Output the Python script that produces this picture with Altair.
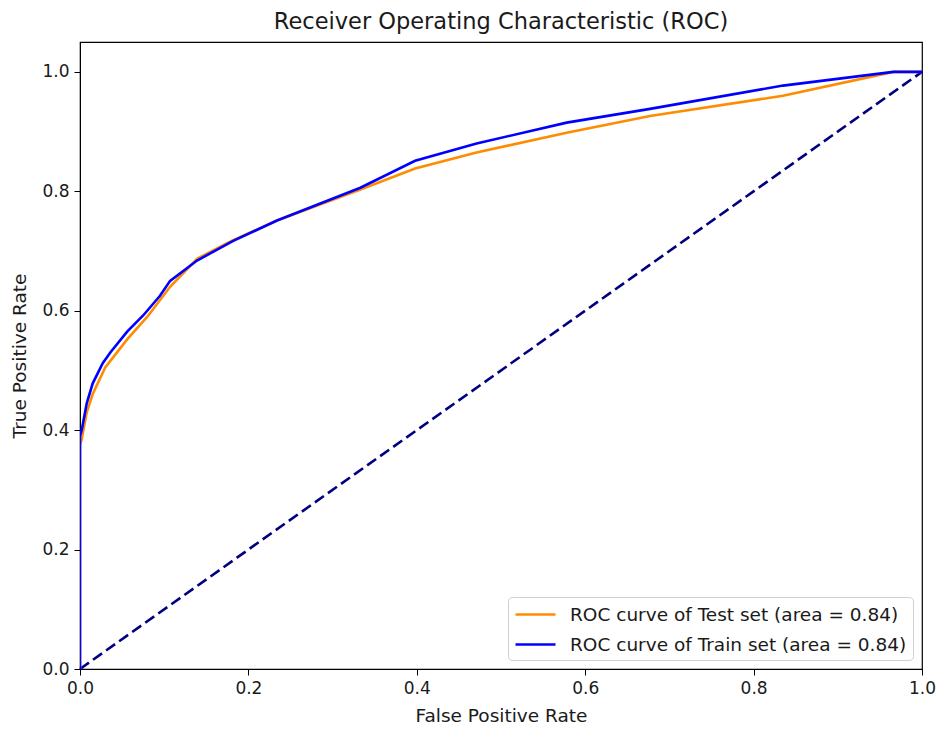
import altair as alt
import pandas as pd

# ROC curve points (false positive rate, true positive rate)
test_fpr = [0, 0, 0.002, 0.008, 0.015, 0.03, 0.056, 0.08, 0.107, 0.139, 0.18, 0.234,
            0.333, 0.398, 0.471, 0.578, 0.677, 0.835, 0.966, 1.0]
test_tpr = [0, 0.375, 0.385, 0.43, 0.46, 0.505, 0.552, 0.59, 0.640, 0.687, 0.717, 0.751,
            0.803, 0.838, 0.865, 0.898, 0.926, 0.960, 1.0, 1.0]

train_fpr = [0, 0, 0.002, 0.008, 0.015, 0.027, 0.036, 0.056, 0.075, 0.095, 0.107, 0.139,
             0.182, 0.234, 0.333, 0.398, 0.471, 0.578, 0.677, 0.835, 0.966, 1.0]
train_tpr = [0, 0.39, 0.40, 0.445, 0.478, 0.512, 0.53, 0.565, 0.592, 0.625, 0.650, 0.684,
             0.717, 0.751, 0.806, 0.851, 0.880, 0.915, 0.938, 0.977, 1.0, 1.0]

series_names = ["ROC curve of Test set (area = 0.84)", "ROC curve of Train set (area = 0.84)"]
series_colors = ["#ff8c00", "#0000ff"]

chance_fpr = [0.0, 1.0]
chance_tpr = [0.0, 1.0]

tick_values = [0, 0.2, 0.4, 0.6, 0.8, 1.0]

rows = []
for name, xs, ys in [(series_names[0], test_fpr, test_tpr), (series_names[1], train_fpr, train_tpr)]:
    for i, (x, y) in enumerate(zip(xs, ys)):
        rows.append({"series": name, "fpr": x, "tpr": y, "step": i})
curves = pd.DataFrame(rows)
chance = pd.DataFrame({"fpr": chance_fpr, "tpr": chance_tpr})

font = "DejaVu Sans"
text_color = "#1a1a1a"


def axis(title_pad):
    return alt.Axis(values=tick_values, format=".1f", grid=False, labelFlush=False,
                    labelOverlap=False, domainColor="black", tickColor="black", tickSize=6,
                    labelFontSize=17, labelColor=text_color, titleFontSize=18.5,
                    titleFontWeight="normal", titleColor=text_color, labelPadding=5,
                    titlePadding=title_pad, labelFont=font, titleFont=font)


x_enc = alt.X("fpr:Q", title="False Positive Rate",
              scale=alt.Scale(domain=[0, 1], nice=False, zero=False), axis=axis(10))
y_enc = alt.Y("tpr:Q", title="True Positive Rate",
              scale=alt.Scale(domain=[0, 1.05], nice=False, zero=False), axis=axis(12))

# Legend key: a horizontal line segment, longer than the row is tall
legend_key = "M-1,0H3"

lines = alt.Chart(curves).mark_line(strokeWidth=2.6, clip=True).encode(
    x=x_enc,
    y=y_enc,
    order="step:Q",
    color=alt.Color("series:N",
                    scale=alt.Scale(domain=series_names, range=series_colors),
                    sort=series_names,
                    legend=alt.Legend(title=None, orient="bottom-right", offset=9,
                                      symbolType=legend_key, symbolStrokeWidth=2.6,
                                      symbolSize=400, labelFontSize=18.5, labelFont=font,
                                      labelColor=text_color, fillColor="white",
                                      strokeColor="#d0d0d0", cornerRadius=4, padding=6,
                                      rowPadding=9, labelOffset=33, labelLimit=500)),
)

diag = alt.Chart(chance).mark_line(color="#000080", strokeWidth=2.6,
                                    strokeDash=[11, 5]).encode(x="fpr:Q", y="tpr:Q")

chart = (diag + lines).properties(
    width=842, height=627,
    title=alt.TitleParams("Receiver Operating Characteristic (ROC)", fontSize=22.5,
                          fontWeight="normal", font=font, color=text_color, offset=9),
    autosize=alt.AutoSizeParams(type="none"),
    padding={"left": 80, "top": 42, "right": 17, "bottom": 60},
).configure_view(stroke="black", strokeWidth=1.2)

chart.save("out.html", embed_options={"renderer": "svg", "actions": False})
